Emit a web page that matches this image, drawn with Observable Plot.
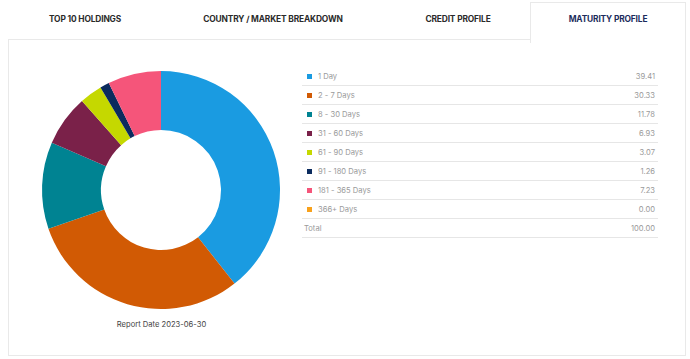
<!DOCTYPE html>
<html>
<head>
<meta charset="utf-8">
<script src="https://cdn.jsdelivr.net/npm/d3@7"></script>
<script src="https://cdn.jsdelivr.net/npm/@observablehq/plot@0.6"></script>
<style>
  html, body { margin: 0; padding: 0; background: #fff; }
  body { width: 690px; height: 359px; position: relative; overflow: hidden; font-family: "Inter", "Lato", sans-serif; }
  .tab { position: absolute; top: 14px; font-size: 8.4px; font-weight: 700; color: #2a2a2a; letter-spacing: -0.15px; text-align: center; white-space: nowrap; }
  .panel { position: absolute; left: 8px; top: 39px; width: 676px; height: 315px; border: 1px solid #e9e9e9; background: #fff; }
  .active { position: absolute; left: 530px; top: 2px; width: 154px; height: 40px; border: 1px solid #e9e9e9; border-bottom: none; background: #fff; }
  #chart { position: absolute; left: 9px; top: 40px; }
  #table { position: absolute; left: 302px; top: 67px; width: 356px; }
  .row { position: relative; height: 18px; border-bottom: 1px solid #e6e6e6; font-size: 7.6px; color: #9a9a9a; }
  .sw { position: absolute; left: 5px; top: 6.5px; width: 5px; height: 5px; }
  .lab { position: absolute; left: 16px; top: 4.5px; }
  .val { position: absolute; right: 3px; top: 4.5px; }
</style>
</head>
<body>
<div class="panel"></div>
<div class="active"></div>
<div class="tab" style="left:0;width:170px;">TOP 10 HOLDINGS</div>
<div class="tab" style="left:190px;width:166px;">COUNTRY / MARKET BREAKDOWN</div>
<div class="tab" style="left:380px;width:156px;">CREDIT PROFILE</div>
<div class="tab" style="left:530px;width:156px;color:#1c2c5c;">MATURITY PROFILE</div>
<div id="chart"></div>
<div id="table"></div>
<script>
const categories = ["1 Day", "2 - 7 Days", "8 - 30 Days", "31 - 60 Days", "61 - 90 Days", "91 - 180 Days", "181 - 365 Days", "366+ Days"];
const values = [39.41, 30.33, 11.78, 6.93, 3.07, 1.26, 7.23, 0.00];
const colors = ["#1a9be1", "#d15a04", "#008392", "#7a2149", "#c5d800", "#0b2b5e", "#f5557a", "#f8a11b"];
const totalLabel = "Total";
const totalValue = "100.00";
const reportDate = "Report Date 2023-06-30";

const data = categories.map((c, i) => ({category: c, value: values[i]}));
const color = Plot.scale({color: {type: "ordinal", domain: categories, range: colors}});

const W = 290, H = 300;
const cx = 152, cy = 150, rOuter = 119, rInner = 60;

const donut = (index, scales, vals, dims, context) => {
  const pie = d3.pie().sort(null).value(d => d.value);
  const arc = d3.arc().innerRadius(rInner).outerRadius(rOuter);
  const g = d3.create("svg:g").attr("transform", `translate(${cx},${cy})`);
  g.selectAll("path")
    .data(pie(data))
    .join("path")
    .attr("d", arc)
    .attr("fill", d => color.apply(d.data.category));
  return g.node();
};

const plot = Plot.plot({
  width: W,
  height: H,
  margin: 0,
  x: {axis: null, domain: [0, W], range: [0, W]},
  y: {axis: null, domain: [0, H], range: [0, H]},
  style: {background: "transparent", fontFamily: "Inter, Lato, sans-serif"},
  marks: [
    donut,
    Plot.text([reportDate], {x: () => cx, y: () => 284, text: d => d, fontSize: 7.6, fill: "#444"})
  ]
});
document.getElementById("chart").appendChild(plot);

const table = document.getElementById("table");
const rows = data.map((d, i) => `<div class="row"><div class="sw" style="background:${color.apply(d.category)}"></div><div class="lab">${d.category}</div><div class="val">${d.value.toFixed(2)}</div></div>`);
rows.push(`<div class="row"><div class="lab" style="left:2px">${totalLabel}</div><div class="val">${totalValue}</div></div>`);
table.innerHTML = rows.join("");
</script>
</body>
</html>
